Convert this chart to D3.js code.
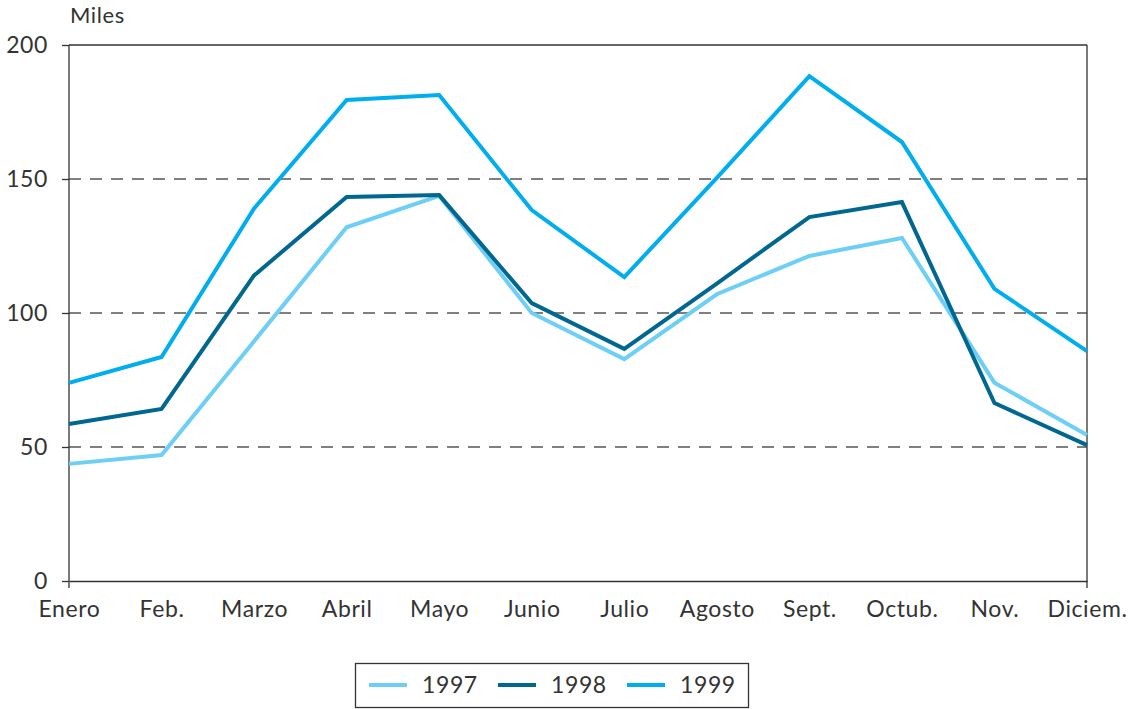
<!DOCTYPE html>
<html>
<head>
<meta charset="utf-8">
<script src="https://cdn.jsdelivr.net/npm/d3@7"></script>
<style>
  body { margin: 0; background: #fff; }
  text { font-family: Lato, "DejaVu Sans", sans-serif; fill: #333; letter-spacing: 0.6px; }
</style>
</head>
<body>
<div id="chart"></div>
<script>

var months = ['Enero', 'Feb.', 'Marzo', 'Abril', 'Mayo', 'Junio', 'Julio', 'Agosto', 'Sept.', 'Octub.', 'Nov.', 'Diciem.']
var y_ticks = [0, 50, 100, 150, 200]

var values_1997 = [43.7, 47, 89.5, 132, 143.7, 100, 82.8, 107, 121.3, 128, 74, 54.5]
var values_1998 = [58.6, 64.2, 114, 143.3, 144, 103.7, 86.6, 111, 135.8, 141.4, 66.4, 50.7]
var values_1999 = [73.9, 83.6, 139, 179.5, 181.3, 138.4, 113.4, 150.4, 188.4, 163.8, 109, 85.8]

var series = [
  { name: '1997', values: values_1997, color: '#6dcff6' },
  { name: '1998', values: values_1998, color: '#006890' },
  { name: '1999', values: values_1999, color: '#00aeef' }
]

var chart_width = 1141
var chart_height = 709
var plot_left = 69, plot_right = 1087, plot_top = 45, plot_bottom = 581

var svg = d3.select('#chart').append('svg')
  .attr('width', chart_width)
  .attr('height', chart_height)

var x = d3.scalePoint().domain(months).range([plot_left, plot_right])
var y = d3.scaleLinear().domain([0, 200]).range([plot_bottom, plot_top])

// dashed grid
svg.append('g')
  .selectAll('line')
  .data(y_ticks.filter(function(d) { return d > 0 && d < 200 }))
  .enter().append('line')
  .attr('x1', plot_left).attr('x2', plot_right)
  .attr('y1', function(d) { return y(d) }).attr('y2', function(d) { return y(d) })
  .attr('stroke', '#555')
  .attr('stroke-width', 1.3)
  .attr('stroke-dasharray', '12,9')

// box: top and right
svg.append('line')
  .attr('x1', plot_left).attr('x2', plot_right).attr('y1', y(200)).attr('y2', y(200))
  .attr('stroke', '#333').attr('stroke-width', 1.3)
svg.append('line')
  .attr('x1', plot_right).attr('x2', plot_right).attr('y1', y(200)).attr('y2', plot_bottom + 7)
  .attr('stroke', '#333').attr('stroke-width', 1.3)

// y axis
var y_axis = svg.append('g')
  .attr('transform', 'translate(' + plot_left + ',0)')
  .call(d3.axisLeft(y).tickValues(y_ticks).tickSize(7).tickPadding(14))
y_axis.select('.domain').attr('d', 'M0,' + plot_top + 'V' + (plot_bottom + 7)).attr('stroke', '#333').attr('stroke-width', 1.3)
y_axis.selectAll('.tick line').attr('stroke', '#333').attr('stroke-width', 1.3)
y_axis.selectAll('.tick text')
  .style('font-size', '23px')
  .style('font-family', 'Lato, "DejaVu Sans", sans-serif')
  .attr('fill', '#333')

// x axis
var x_axis = svg.append('g')
  .attr('transform', 'translate(0,' + plot_bottom + ')')
  .call(d3.axisBottom(x).tickSize(0).tickPadding(20))
x_axis.select('.domain').attr('stroke', '#333').attr('stroke-width', 1.3)
x_axis.selectAll('.tick text')
  .style('font-size', '23px')
  .style('font-family', 'Lato, "DejaVu Sans", sans-serif')
  .attr('fill', '#333')

svg.append('text')
  .attr('x', 70)
  .attr('y', 23)
  .style('font-size', '22px')
  .text('Miles')

// lines
var line = d3.line()
  .x(function(d, i) { return x(months[i]) })
  .y(function(d) { return y(d) })

series.forEach(function(s) {
  svg.append('path')
    .datum(s.values)
    .attr('d', line)
    .attr('fill', 'none')
    .attr('stroke', s.color)
    .attr('stroke-width', 4)
    .attr('stroke-linejoin', 'miter')
})

// legend
var legend = svg.append('g')
legend.append('rect')
  .attr('x', 355.5).attr('y', 663.5)
  .attr('width', 393).attr('height', 44)
  .attr('fill', 'none')
  .attr('stroke', '#333')
  .attr('stroke-width', 1.3)

series.forEach(function(s, i) {
  var lx = 369 + i * 129
  legend.append('line')
    .attr('x1', lx).attr('x2', lx + 38)
    .attr('y1', 685).attr('y2', 685)
    .attr('stroke', s.color)
    .attr('stroke-width', 4)
  legend.append('text')
    .attr('x', lx + 53)
    .attr('y', 693)
    .style('font-size', '23px')
    .text(s.name)
})

</script>
</body>
</html>
